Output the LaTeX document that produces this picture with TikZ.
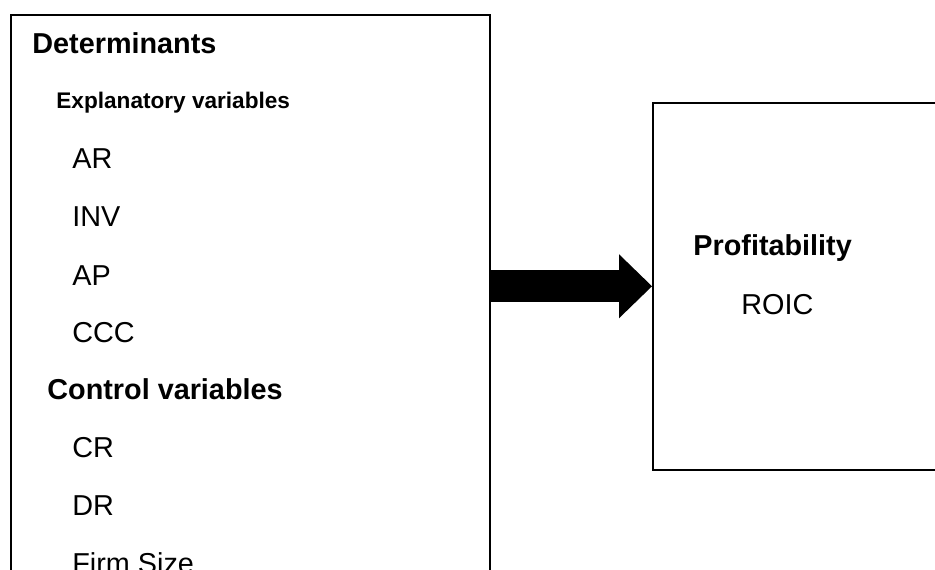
\documentclass[tikz,border=0pt]{standalone}
\usepackage{fontspec}
\setmainfont{Liberation Sans}
\usetikzlibrary{arrows.meta,positioning}

\begin{document}
\begin{tikzpicture}[
    x=0.5pt, y=-0.5pt,
    % --- STYLES ---
    frame/.style={
        rectangle, draw=black, fill=none,
        line width=0.75pt,
        anchor=north west, inner sep=0pt
    },
    heading/.style={anchor=base west, inner sep=0pt, font=\fontsize{14.4}{17}\selectfont\bfseries},
    subheading/.style={anchor=base west, inner sep=0pt, font=\fontsize{11.3}{14}\selectfont\bfseries},
    item/.style={anchor=base west, inner sep=0pt, font=\fontsize{14.4}{17}\selectfont},
    bigarrow/.style={line width=16pt, -{Triangle[length=16.5pt, width=32pt, line width=0pt]}}
]

% ===== 1. CANVAS =====
\useasboundingbox (0,0) rectangle (935,569);
\clip (0,0) rectangle (935,569);

% ===== 2. BOXES =====
\node[frame, minimum width=239.5pt, minimum height=320pt] (detbox) at (10,14) {};
\node[frame, minimum width=160pt, minimum height=183.5pt] (profbox) at (652,102) {};

% ===== 3. LEFT BOX TEXT =====
\node[heading] (tdet) at (32,53) {Determinants};
\node[subheading] (texpl) at (56,108) {Explanatory variables};
\node[item] (tar) at (72,168) {AR};
\node[item] (tinv) at (72,226) {INV};
\node[item] (tap) at (72,285) {AP};
\node[item] (tccc) at (72,342) {CCC};
\node[heading] (tctrl) at (47,399) {Control variables};
\node[item] (tcr) at (72,457) {CR};
\node[item] (tdr) at (72,515) {DR};
\node[item] (tsize) at (72,573) {Firm Size};

% ===== 4. RIGHT BOX TEXT =====
\node[heading] (tprof) at (693,255) {Profitability};
\node[item] (troic) at (741,314) {ROIC};

% ===== 5. CONNECTION =====
\draw[bigarrow] (profbox.west -| detbox.east) -- (profbox.west);

\end{tikzpicture}
\end{document}
